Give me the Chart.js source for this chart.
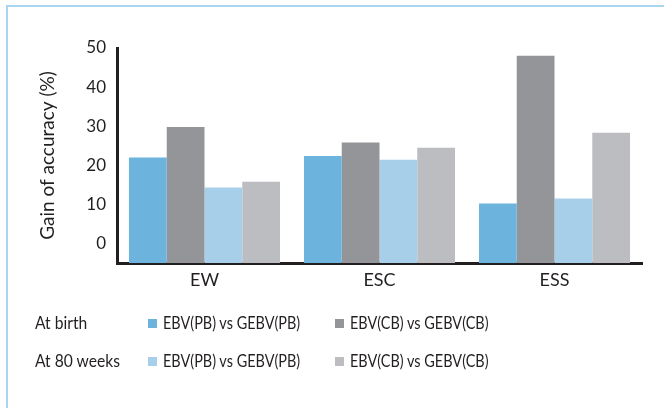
<!DOCTYPE html>
<html>
<head>
<meta charset="utf-8">
<script src="https://cdn.jsdelivr.net/npm/chart.js@4.4.1/dist/chart.umd.min.js"></script>
<style>
  html, body { margin: 0; padding: 0; background: #fff; }
  body { width: 664px; height: 408px; position: relative; overflow: hidden; font-family: Lato, sans-serif; color: #231f20; }
  #frame { position: absolute; left: 6px; top: 5px; width: 670px; height: 420px; border: 2px solid #a9d5ef; box-sizing: border-box; }
  #wrap { position: absolute; left: 0; top: 0; width: 664px; height: 408px; }
  .lg { position: absolute; font-size: 17px; line-height: 20px; white-space: nowrap; }
  .sw { display: inline-block; width: 9px; height: 9px; margin-right: 6px; vertical-align: 1px; }
  .nx { display: inline-block; transform: scaleX(0.85); transform-origin: 0 50%; }
</style>
</head>
<body>
<div id="frame"></div>
<div id="wrap"><canvas id="myChart"></canvas></div>
<div id="legend"></div>
<script>
const categories = ['EW', 'ESC', 'ESS'];
const birthPB = [22.0, 22.4, 10.2];
const birthCB = [29.8, 25.8, 48.0];
const weeks80PB = [14.3, 21.4, 11.5];
const weeks80CB = [15.8, 24.5, 28.3];
const yTicks = [0, 10, 20, 30, 40, 50];
const rowLabels = ['At birth', 'At 80 weeks'];
const seriesLabel = ['EBV(PB) vs GEBV(PB)', 'EBV(CB) vs GEBV(CB)'];

const ink = '#231f20';
const axisMin = -5;

const data = {
  labels: categories,
  datasets: [
    { label: 'At birth ' + seriesLabel[0], data: birthPB, backgroundColor: '#6cb4de' },
    { label: 'At birth ' + seriesLabel[1], data: birthCB, backgroundColor: '#939598' },
    { label: 'At 80 weeks ' + seriesLabel[0], data: weeks80PB, backgroundColor: '#a8cfea' },
    { label: 'At 80 weeks ' + seriesLabel[1], data: weeks80CB, backgroundColor: '#bcbdc0' }
  ].map(d => Object.assign(d, { base: axisMin, borderWidth: 0 }))
};

const config = {
  type: 'bar',
  data: data,
  options: {
    responsive: true,
    maintainAspectRatio: false,
    animation: false,
    layout: { padding: { left: 28, top: 48, right: 22, bottom: 108 } },
    datasets: { bar: { categoryPercentage: 0.863, barPercentage: 1 } },
    plugins: { legend: { display: false }, tooltip: { enabled: false } },
    scales: {
      x: {
        z: 1,
        grid: { display: false, drawTicks: false },
        border: { display: true, color: ink, width: 3 },
        ticks: { color: ink, padding: 6, font: { family: 'Lato', size: 18 } },
        afterFit: s => { s.height = 37; }
      },
      y: {
        z: 1,
        min: axisMin,
        max: 50,
        grid: { display: false, drawTicks: false },
        border: { display: true, color: ink, width: 3 },
        ticks: { color: ink, padding: 11, font: { family: 'Lato', size: 17 } },
        afterBuildTicks: s => { s.ticks = yTicks.map(v => ({ value: v })); },
        afterFit: s => { s.width = 89; },
        title: {
          display: true,
          text: 'Gain of accuracy (%)',
          color: ink,
          padding: { top: 8, bottom: 0 },
          font: { family: 'Lato', size: 19 }
        }
      }
    }
  }
};

const myChart = new Chart(document.getElementById('myChart'), config);

// legend laid out as two rows x two columns, like the original figure
const legend = document.getElementById('legend');
const rowY = [313, 351];
const colX = [148, 335];
rowLabels.forEach((row, r) => {
  const t = document.createElement('div');
  t.className = 'lg';
  t.style.left = '35px';
  t.style.top = rowY[r] + 'px';
  t.innerHTML = '<span class="nx" style="transform:scaleX(0.92)"></span>';
  t.firstChild.textContent = row;
  legend.appendChild(t);
  seriesLabel.forEach((s, c) => {
    const ds = data.datasets[r * 2 + c];
    const item = document.createElement('div');
    item.className = 'lg';
    item.style.left = colX[c] + 'px';
    item.style.top = rowY[r] + 'px';
    const sw = document.createElement('span');
    sw.className = 'sw';
    sw.style.background = ds.backgroundColor;
    const txt = document.createElement('span');
    txt.className = 'nx';
    txt.textContent = s;
    item.appendChild(sw);
    item.appendChild(txt);
    legend.appendChild(item);
  });
});
</script>
</body>
</html>
